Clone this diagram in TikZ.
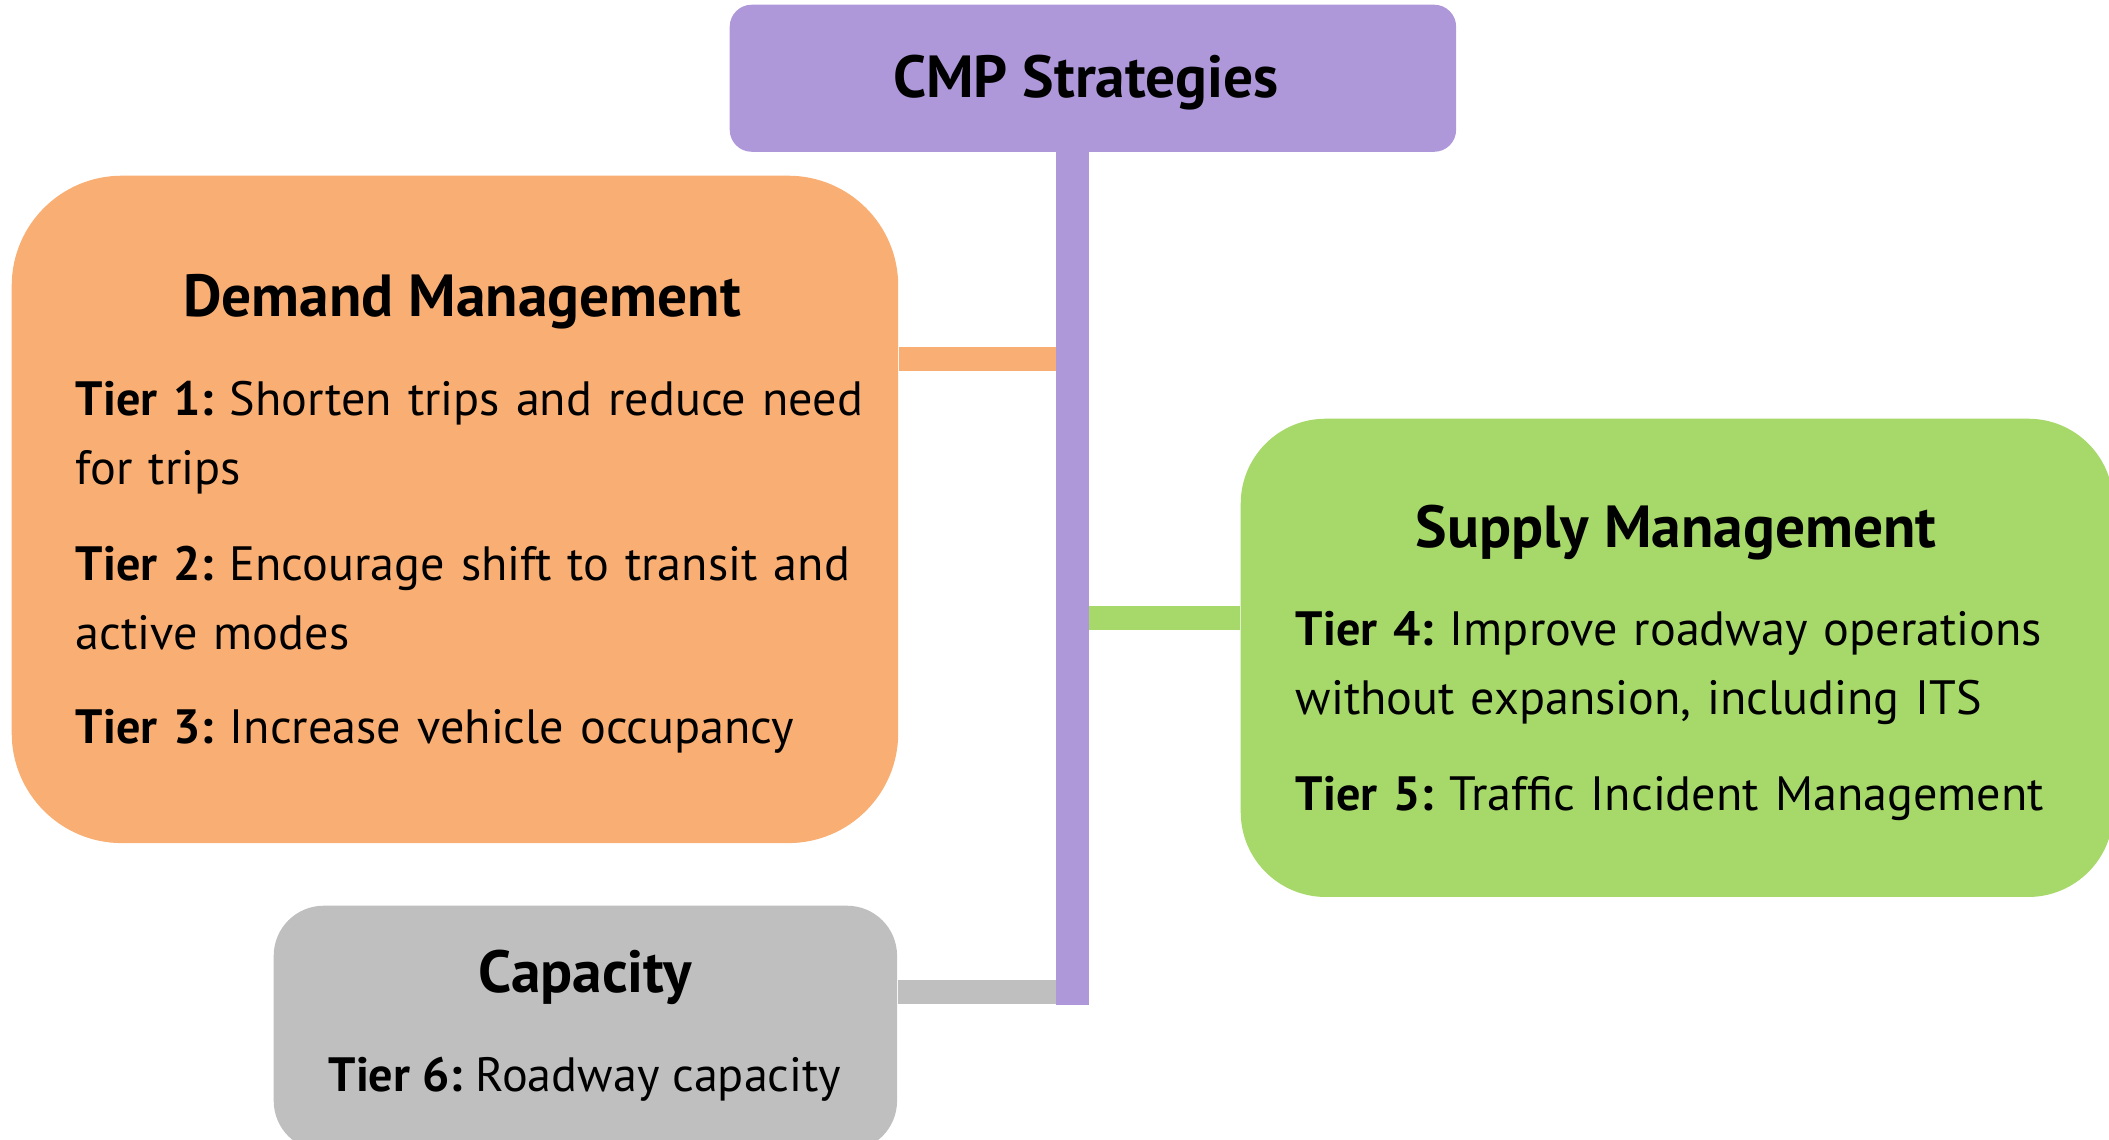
\documentclass[tikz,border=0pt]{standalone}
\usepackage{fontspec}
\setmainfont{PT Sans}
\usetikzlibrary{positioning}
\definecolor{cmppurple}{HTML}{AE98DA}
\definecolor{demandorange}{HTML}{F9AE73}
\definecolor{supplygreen}{HTML}{A7D86A}
\definecolor{capgray}{HTML}{BFBFBF}
\frenchspacing
\tikzset{
  headtext/.style={font=\fontsize{16.9}{20}\selectfont\bfseries,inner sep=0pt,anchor=base},
  tiertext/.style={font=\fontsize{13.7}{19.63}\selectfont,inner sep=0pt,anchor=base west,text width=8.2cm,align=left},
  link/.style={line width=0.245cm}
}
\begin{document}
\begin{tikzpicture}[x=0.01cm,y=-0.01cm]
\useasboundingbox (0,0) rectangle (2109,1139);
% boxes
\node[fill=cmppurple,rounded corners=0.22cm,minimum width=7.26cm,minimum height=1.47cm,anchor=north west] (cmp) at (729,4) {};
\node[fill=demandorange,rounded corners=1.1cm,minimum width=8.86cm,minimum height=6.67cm,anchor=north west] (demand) at (11,175) {};
\node[fill=supplygreen,rounded corners=0.85cm,minimum width=8.72cm,minimum height=4.78cm,anchor=north west] (supply) at (1240,418) {};
\node[fill=capgray,rounded corners=0.5cm,minimum width=6.23cm,minimum height=2.45cm,anchor=north west] (capacity) at (273,905) {};
% trunk and branches
\coordinate (bartop) at (1072.5,151);
\coordinate (barbot) at (1072.5,1005);
\coordinate (djoin) at (1072.5,359);
\coordinate (sjoin) at (1072.5,618);
\coordinate (cjoin) at (1072.5,992);
\draw[link,demandorange] (demand.east |- djoin) -- (djoin);
\draw[link,supplygreen] (supply.west |- sjoin) -- (sjoin);
\draw[link,capgray] (capacity.east |- cjoin) -- (cjoin);
\draw[line width=0.33cm,cmppurple] (bartop) -- (barbot);
% texts
\node[headtext] (cmptitle) at (1086,97) {CMP Strategies};
\node[headtext] (demandtitle) at (462,316) {Demand Management};
\node[tiertext] (tierone) at (75,415) {\textbf{Tier 1:} Shorten trips and reduce need\\for trips};
\node[tiertext] (tiertwo) at (75,580) {\textbf{Tier 2:} Encourage shift to transit and\\active modes};
\node[tiertext] (tierthree) at (75,743) {\textbf{Tier 3:} Increase vehicle occupancy};
\node[headtext] (supplytitle) at (1676,547) {Supply Management};
\node[tiertext] (tierfour) at (1295,645) {\textbf{Tier 4:} Improve roadway operations\\without expansion, including ITS};
\node[tiertext] (tierfive) at (1295,810) {\textbf{Tier 5:} Traffic Incident Management};
\node[headtext] (captitle) at (585,992) {Capacity};
\node[font=\fontsize{13.7}{19.63}\selectfont,inner sep=0pt,anchor=base] (tiersix) at (585,1091) {\textbf{Tier 6:} Roadway capacity};
\end{tikzpicture}
\end{document}
